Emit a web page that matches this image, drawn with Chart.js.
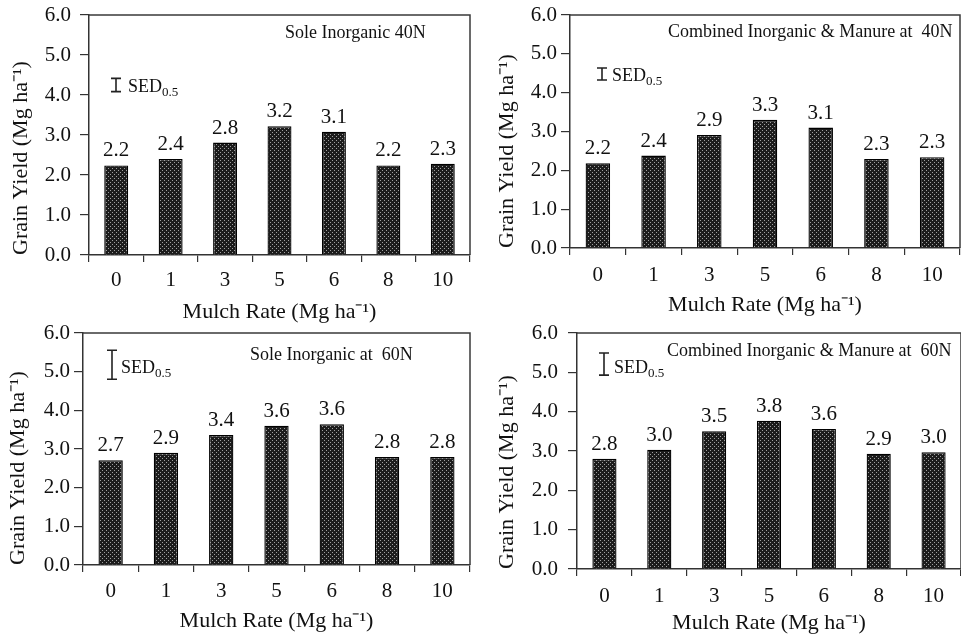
<!DOCTYPE html>
<html><head><meta charset="utf-8">
<script src="https://cdn.jsdelivr.net/npm/chart.js@4.4.0/dist/chart.umd.min.js"></script>
<style>
html,body{margin:0;padding:0;background:#fff;}
#wrap{position:relative;width:961px;height:638px;overflow:hidden;background:#fff;}
#wrap canvas{position:absolute;left:0;top:0;}
</style></head><body>
<div id="wrap">
<canvas id="c1" width="961" height="638"></canvas>
<canvas id="c2" width="961" height="638"></canvas>
<canvas id="c3" width="961" height="638"></canvas>
<canvas id="c4" width="961" height="638"></canvas>
</div>
<script>
// ---- data ----
const categories = ['0','1','3','5','6','8','10'];
const yTickValues = [0,1,2,3,4,5,6];
const panelTitles = ['Sole Inorganic 40N','Combined Inorganic & Manure at  40N','Sole Inorganic at  60N','Combined Inorganic & Manure at  60N'];
const yieldSole40 = [2.24,2.40,2.81,3.22,3.08,2.24,2.28];
const yieldComb40 = [2.18,2.38,2.91,3.30,3.10,2.29,2.34];
const yieldSole60 = [2.71,2.90,3.36,3.60,3.64,2.79,2.79];
const yieldComb60 = [2.80,3.03,3.50,3.77,3.56,2.93,2.97];
const sedValues = [0.33,0.31,0.75,0.56];
const sedCentres = [4.25,4.48,5.18,5.21];
const yTitle = 'Grain Yield (Mg ha\u207B\u00B9)';
const xTitle = 'Mulch Rate (Mg ha\u207B\u00B9)';

// ---- layout (pixel placement of each panel) ----
const layouts = [
  {id:'c1', area:{l:89,t:15,r:470,b:255}, xTickY:280, xTitleY:312, yTitleX:21, yLabelRight:71, label:{x:285,y:33}, sed:{dx:27,textDx:12,textY:92}},
  {id:'c2', area:{l:570,t:15,r:960,b:248}, xTickY:275, xTitleY:305, yTitleX:507, yLabelRight:557, label:{x:668,y:32}, sed:{dx:32,textDx:10,textY:81}},
  {id:'c3', area:{l:83,t:333,r:470,b:565}, xTickY:591, xTitleY:621, yTitleX:18, yLabelRight:70, label:{x:250,y:355}, sed:{dx:29,textDx:9,textY:373}},
  {id:'c4', area:{l:577,t:333,r:961,b:569}, xTickY:596, xTitleY:623, yTitleX:507, yLabelRight:558, label:{x:667,y:351}, sed:{dx:27,textDx:10,textY:373}}
];
const seriesList = [yieldSole40, yieldComb40, yieldSole60, yieldComb60];

const FONT = "'Liberation Serif','Times New Roman',serif";
const W = 961, H = 638;
const lh = s => s * 1.2;

function makePattern(ctx){
  const c = document.createElement('canvas'); c.width = 4; c.height = 4;
  const x = c.getContext('2d');
  x.fillStyle = '#1c1c1c'; x.fillRect(0,0,4,4);
  x.fillStyle = '#a0a0a0'; x.fillRect(0,0,1,1); x.fillRect(2,2,1,1);
  return ctx.createPattern(c, 'repeat');
}

function makeChart(idx){
  const L = layouts[idx];
  const values = seriesList[idx];
  const canvas = document.getElementById(L.id);
  const ctx = canvas.getContext('2d');
  const tickSize = 21, xTickSize = 21, titleSize = 22;
  const padLeft = L.yTitleX - lh(titleSize)/2;
  const yWidth = L.area.l - padLeft;
  const yTickLen = 9;
  const yTickPad = L.area.l - L.yLabelRight - yTickLen;
  const xTickLen = 7;
  const xTickPad = L.xTickY - L.area.b - xTickLen - lh(xTickSize)/2;
  const xHeight = L.xTitleY - L.area.b + lh(titleSize)/2;
  const padBottom = H - L.area.b - xHeight;

  const extras = {
    id: 'extras' + idx,
    afterDatasetsDraw(chart){
      const c = chart.ctx, a = chart.chartArea;
      c.save();
      // frame top & right
      c.strokeStyle = '#3a3a3a'; c.lineWidth = 1.5;
      c.beginPath(); c.moveTo(a.left, a.top); c.lineTo(a.right, a.top); c.lineTo(a.right, a.bottom); c.stroke();
      // value labels
      c.fillStyle = '#111'; c.font = '21px ' + FONT; c.textAlign = 'center'; c.textBaseline = 'alphabetic';
      chart.getDatasetMeta(0).data.forEach((el, i) => {
        c.fillText(values[i].toFixed(1), el.x, el.y - 9);
      });
      // panel label
      c.font = '18px ' + FONT; c.textAlign = 'left'; c.textBaseline = 'middle';
      c.fillText(panelTitles[idx], L.label.x, L.label.y);
      // SED bar
      const ys = chart.scales.y;
      const xc = a.left + L.sed.dx;
      const y1 = ys.getPixelForValue(sedCentres[idx] + sedValues[idx]/2);
      const y2 = ys.getPixelForValue(sedCentres[idx] - sedValues[idx]/2);
      c.strokeStyle = '#222'; c.lineWidth = 1.6;
      c.beginPath();
      c.moveTo(xc, y1); c.lineTo(xc, y2);
      c.moveTo(xc - 5, y1); c.lineTo(xc + 5, y1);
      c.moveTo(xc - 5, y2); c.lineTo(xc + 5, y2);
      c.stroke();
      c.textBaseline = 'alphabetic';
      c.font = '18px ' + FONT;
      const tx = xc + L.sed.textDx;
      c.fillText('SED', tx, L.sed.textY);
      const w = c.measureText('SED').width;
      c.font = '13px ' + FONT;
      c.fillText('0.5', tx + w, L.sed.textY + 4);
      c.restore();
    }
  };

  return new Chart(ctx, {
    type: 'bar',
    data: {
      labels: categories,
      datasets: [{
        data: values,
        backgroundColor: makePattern(ctx),
        borderColor: '#000',
        borderWidth: 1.3,
        borderSkipped: 'bottom',
        barPercentage: 0.44,
        categoryPercentage: 1.0
      }]
    },
    options: {
      responsive: false,
      animation: false,
      devicePixelRatio: 1,
      layout: { padding: { left: padLeft, top: L.area.t, right: W - L.area.r, bottom: padBottom } },
      plugins: { legend: { display: false }, tooltip: { enabled: false } },
      scales: {
        x: {
          grid: { display: true, drawOnChartArea: false, drawTicks: true, tickLength: xTickLen, color: '#333', lineWidth: 1.2, offset: true },
          border: { display: true, color: '#333', width: 1.5 },
          ticks: { color: '#111', font: { family: FONT, size: xTickSize }, padding: xTickPad, maxRotation: 0, autoSkip: false },
          title: { display: true, text: xTitle, color: '#111', font: { family: FONT, size: titleSize }, padding: 0 },
          afterFit(s){ s.height = xHeight; s.paddingLeft = 0; s.paddingRight = 0; }
        },
        y: {
          min: 0, max: 6,
          afterBuildTicks(s){ s.ticks = yTickValues.map(v => ({ value: v })); },
          grid: { display: true, drawOnChartArea: false, drawTicks: true, tickLength: yTickLen, color: '#333', lineWidth: 1.2 },
          border: { display: true, color: '#333', width: 1.5 },
          ticks: { color: '#111', font: { family: FONT, size: tickSize }, padding: yTickPad, callback: v => Number(v).toFixed(1) },
          title: { display: true, text: yTitle, color: '#111', align: 'start', font: { family: FONT, size: titleSize }, padding: 0 },
          afterFit(s){ s.width = yWidth; s.paddingTop = 0; s.paddingBottom = 0; }
        }
      }
    },
    plugins: [extras]
  });
}

for (let i = 0; i < 4; i++) makeChart(i);
</script>
</body></html>
